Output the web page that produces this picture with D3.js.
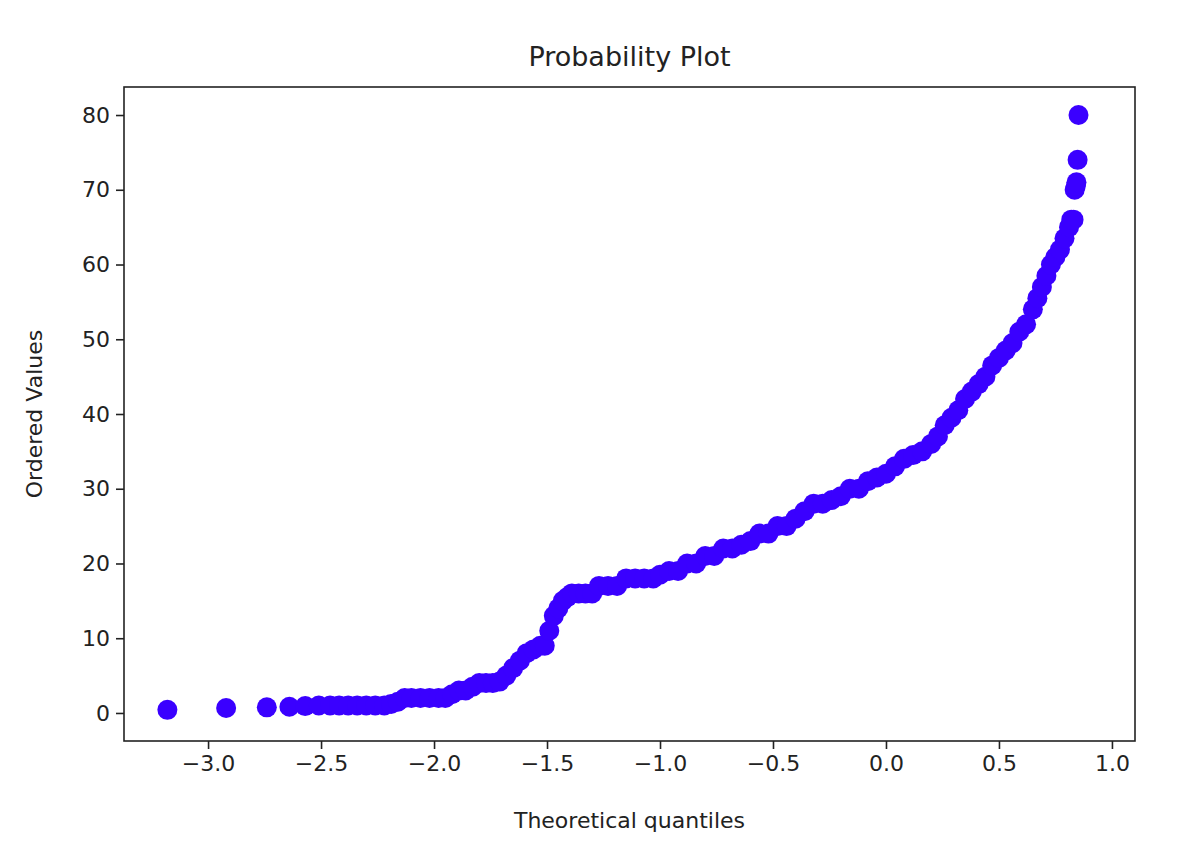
<!DOCTYPE html>
<html><head><meta charset="utf-8">
<script src="https://cdn.jsdelivr.net/npm/d3@7"></script>
<style>body{margin:0;background:#fff}text{font-family:"DejaVu Sans",sans-serif}</style>
</head><body><svg id="c" width="1200" height="860"></svg>
<script>
// [theoretical quantile, ordered value] pairs
const points=[
[-3.18,0.42],[-2.92,0.67],[-2.74,0.75],[-2.64,0.83],[-2.57,0.92],[-2.51,1],[-2.46,1],[-2.42,1],[-2.38,1],[-2.34,1],[-2.3,1],[-2.26,1],[-2.22,1],[-2.19,1.2],[-2.16,1.5],
[-2.13,2],[-2.1,2],[-2.06,2],[-2.02,2],[-1.98,2],[-1.95,2],[-1.92,2.5],[-1.89,3],[-1.86,3],[-1.83,3.5],[-1.8,4],[-1.77,4],[-1.74,4],[-1.71,4.2],[-1.68,5],
[-1.65,6],[-1.62,7],[-1.59,8],[-1.56,8.5],[-1.53,9],[-1.51,9],[-1.49,11],[-1.47,13],[-1.45,14],[-1.43,15],[-1.41,15.5],[-1.39,16],[-1.36,16],[-1.33,16],[-1.3,16],
[-1.27,17],[-1.23,17],[-1.19,17],[-1.15,18],[-1.11,18],[-1.07,18],[-1.03,18],[-1.0,18.5],[-0.96,19],[-0.92,19],[-0.88,20],[-0.84,20],[-0.8,21],[-0.76,21],[-0.72,22],
[-0.68,22],[-0.64,22.5],[-0.6,23],[-0.56,24],[-0.52,24],[-0.48,25],[-0.44,25],[-0.4,26],[-0.36,27],[-0.32,28],[-0.28,28],[-0.24,28.5],[-0.2,29],[-0.16,30],[-0.12,30],
[-0.08,31],[-0.04,31.5],[0.0,32],[0.04,33],[0.08,34],[0.12,34.5],[0.16,35],[0.2,36],[0.23,37],[0.26,38.5],[0.29,39.5],[0.32,40.5],[0.35,42],[0.38,43],[0.41,44],
[0.44,45],[0.47,46.5],[0.5,47.5],[0.53,48.5],[0.56,49.5],[0.59,51],[0.62,52],[0.65,54],[0.67,55.5],[0.69,57],[0.71,58.5],[0.73,60],[0.75,61],[0.77,62],[0.79,63.5],
[0.81,65],[0.82,66],[0.83,66],[0.835,70],[0.84,70.5],[0.843,71],[0.848,74],[0.852,80]
];
const xTicks=[-3.0,-2.5,-2.0,-1.5,-1.0,-0.5,0.0,0.5,1.0];
const yTicks=[0,10,20,30,40,50,60,70,80];
const svg=d3.select("#c");
const L=124,R=1135,T=87,B=741;
const x=d3.scaleLinear().domain([-3.372,1.102]).range([L,R]);
const y=d3.scaleLinear().domain([-3.75,83.75]).range([B,T]);
svg.append("g").selectAll("circle").data(points).join("circle")
 .attr("cx",d=>x(d[0])).attr("cy",d=>y(d[1])).attr("r",10).attr("fill","#3a00ff");
const ax=svg.append("g").attr("transform",`translate(0,${B})`).call(d3.axisBottom(x).tickValues(xTicks).tickFormat(d=>d3.format(".1f")(d).replace("-","\u2212")).tickSize(8).tickPadding(6));
const ay=svg.append("g").attr("transform",`translate(${L},0)`).call(d3.axisLeft(y).tickValues(yTicks).tickSize(8).tickPadding(6));
[ax,ay].forEach(a=>{a.selectAll("text").attr("font-size",22).attr("fill","#222").attr("font-family","DejaVu Sans");a.selectAll("line").attr("stroke","#222").attr("stroke-width",1.6);a.select(".domain").remove();});
svg.append("rect").attr("x",L).attr("y",T).attr("width",R-L).attr("height",B-T).attr("fill","none").attr("stroke","#222").attr("stroke-width",1.6);
svg.append("text").attr("x",(L+R)/2).attr("y",66).attr("text-anchor","middle").attr("font-size",27).attr("fill","#222").text("Probability Plot");
svg.append("text").attr("x",(L+R)/2).attr("y",828).attr("text-anchor","middle").attr("font-size",22).attr("fill","#222").text("Theoretical quantiles");
svg.append("text").attr("transform",`translate(42,${(T+B)/2}) rotate(-90)`).attr("text-anchor","middle").attr("font-size",22).attr("fill","#222").text("Ordered Values");
</script></body></html>
